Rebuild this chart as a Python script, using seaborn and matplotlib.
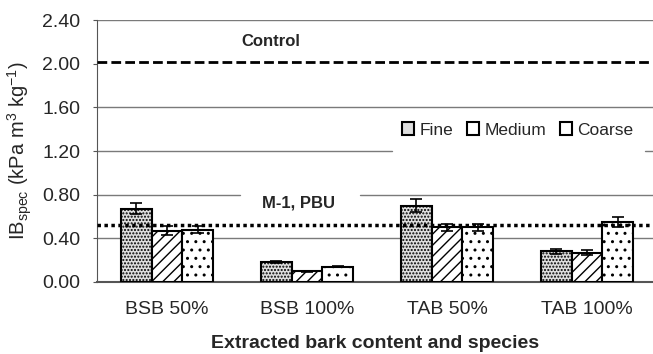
import numpy as np
import pandas as pd
import matplotlib
matplotlib.use("Agg")
import matplotlib.pyplot as plt
import seaborn as sns

groups = ["BSB 50%", "BSB 100%", "TAB 50%", "TAB 100%"]
sizes = ["Fine", "Medium", "Coarse"]
fine = [0.67, 0.18, 0.70, 0.28]
medium = [0.47, 0.10, 0.50, 0.27]
coarse = [0.48, 0.14, 0.50, 0.55]
fine_err = [0.05, 0.01, 0.06, 0.02]
medium_err = [0.04, 0.005, 0.03, 0.02]
coarse_err = [0.03, 0.005, 0.03, 0.05]
control = 2.02
m1_pbu = 0.52

df = pd.DataFrame({
    "group": groups * 3,
    "size": np.repeat(sizes, len(groups)),
    "ib": fine + medium + coarse,
    "err": fine_err + medium_err + coarse_err,
})

sns.set_style("white")
plt.rcParams["font.family"] = ["Liberation Sans", "DejaVu Sans"]
plt.rcParams["hatch.linewidth"] = 1.0

fig = plt.figure(figsize=(6.53, 3.54), dpi=100)
ax = fig.add_axes([0.1485, 0.2034, 0.8515, 0.740])

sns.barplot(data=df, x="group", y="ib", hue="size", order=groups, hue_order=sizes,
            errorbar=None, width=0.66, palette=["#dedede", "white", "white"],
            edgecolor="black", linewidth=1.5, ax=ax, zorder=3)

hatches = [".....", "///", ".."]
for cont, h, s in zip(ax.containers, hatches, sizes):
    errs = df.loc[df["size"] == s, "err"].values
    xs, ys = [], []
    for bar in cont:
        bar.set_hatch(h)
        xs.append(bar.get_x() + bar.get_width() / 2)
        ys.append(bar.get_height())
    ax.errorbar(xs, ys, yerr=errs, fmt="none", ecolor="black", elinewidth=1.2,
                capsize=4.5, capthick=1.2, zorder=4)

# gridlines (0.8 and 1.2 are interrupted behind the label and the legend)
grid = dict(color="#7a7a7a", lw=1, zorder=1)
for y in [0.4, 1.6, 2.4]:
    ax.axhline(y, **grid)
ax.axhline(0.8, xmax=0.257, **grid)
ax.axhline(0.8, xmin=0.473, **grid)
ax.axhline(1.2, xmax=0.53, **grid)
ax.axhline(1.2, xmin=0.986, **grid)

ax.axhline(control, color="black", lw=2, ls=(0, (3.5, 1.5)), zorder=5)
ax.axhline(m1_pbu, color="black", lw=2.5, ls=(0, (1, 1)), zorder=5)
ax.text(0.74, 2.20, "Control", ha="center", va="center", fontsize=12, fontweight="bold")
ax.text(0.94, 0.72, "M-1, PBU", ha="center", va="center", fontsize=12, fontweight="bold")

ax.set_xlim(-0.5, 3.471)
ax.set_ylim(0, 2.4)
ax.set_yticks(np.arange(0, 2.41, 0.4))
ax.set_yticklabels([f"{v:.2f}" for v in np.arange(0, 2.41, 0.4)], fontsize=14)
ax.set_xticks(range(4))
ax.set_xticklabels(groups, fontsize=14)
ax.set_xticks([-0.5, 0.5, 1.5, 2.5], minor=True)
ax.tick_params(axis="x", which="major", length=0, pad=14)
ax.tick_params(axis="x", which="minor", length=5, direction="out", color="#555555")
ax.tick_params(axis="y", length=3, direction="out", color="#555555", pad=9, left=True)

for side in ["top", "right"]:
    ax.spines[side].set_visible(False)
ax.spines["left"].set_color("#555555")
ax.spines["bottom"].set_color("#555555")
ax.spines["bottom"].set_linewidth(1.5)

ax.set_xlabel("Extracted bark content and species", fontsize=14, fontweight="bold", labelpad=12)
ax.set_ylabel("IB$_{\\mathregular{spec}}$ (kPa m$^{\\mathregular{3}}$ kg$^{\\mathregular{-1}}$)",
              fontsize=14.5, labelpad=6)

leg = ax.legend(loc="center", bbox_to_anchor=(0.757, 0.58), ncol=3, fontsize=12.5,
                handlelength=0.7, handleheight=0.7, handletextpad=0.3, columnspacing=0.8,
                frameon=False)

fig.savefig("out.png", dpi=100)
